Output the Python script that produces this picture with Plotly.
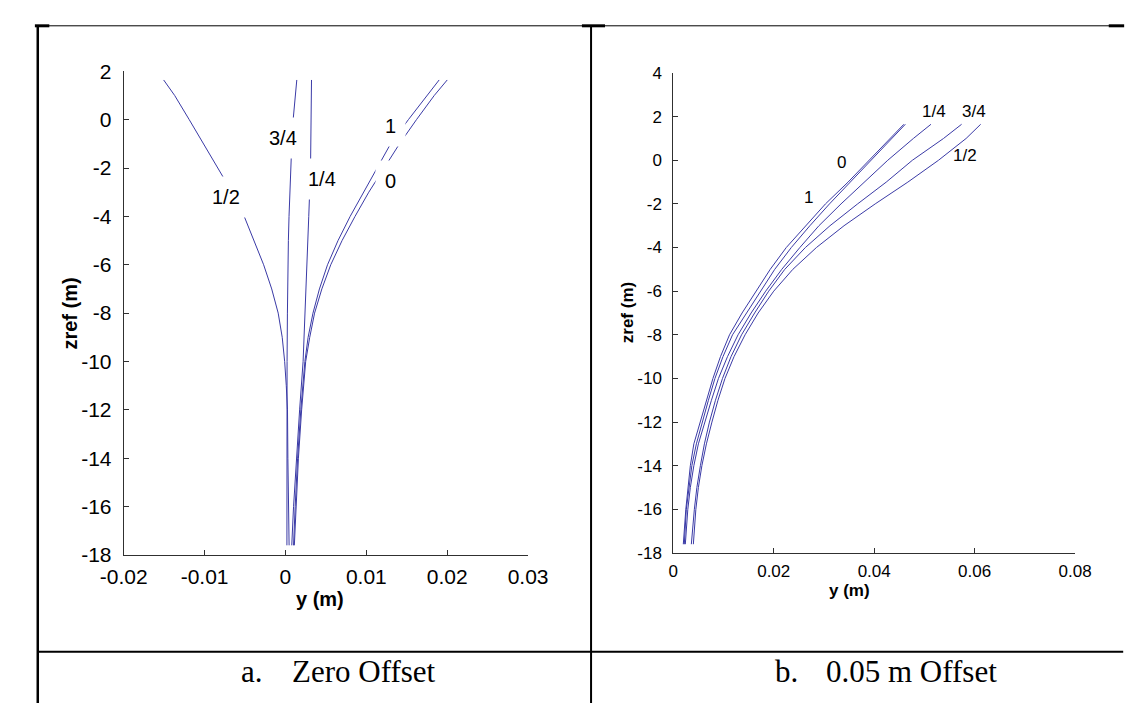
import plotly.graph_objects as go

W, H = 1140, 706

# ---------------- data : panel a (zero offset) ----------------
a_z_0 = [1.64, 1, 0, -1, -2, -3, -4, -5, -6, -7, -8, -9, -10, -12, -14, -16, -17.6]
a_y_0 = [0.0200, 0.0184, 0.0162, 0.0141, 0.0122, 0.0103, 0.0086, 0.0070, 0.0056, 0.0045,
         0.0036, 0.0030, 0.0025, 0.0020, 0.0016, 0.0013, 0.0011]
a_z_1 = [1.64, 1, 0, -1, -2, -3, -4, -5, -6, -7, -8, -9, -10, -12, -14, -16, -17.6]
a_y_1 = [0.0190, 0.0175, 0.0152, 0.0130, 0.0113, 0.0096, 0.0080, 0.0065, 0.0052, 0.0042,
         0.0034, 0.0028, 0.0024, 0.0019, 0.0015, 0.0012, 0.0010]
a_z_q = [1.64, 0, -2, -4, -6, -8, -10, -12, -14, -16, -17.6]
a_y_q = [0.00322, 0.00318, 0.00310, 0.00288, 0.00266, 0.00242, 0.00218, 0.00175, 0.00135,
         0.00100, 0.00078]
a_z_h = [1.64, 1, 0, -1, -2, -3, -4, -5, -6, -7, -8, -9, -10, -11, -12, -14, -16, -17.6]
a_y_h = [-0.01506, -0.0137, -0.0119, -0.0101, -0.0084, -0.0066, -0.0051, -0.0039, -0.0027,
         -0.0017, -0.0009, -0.0004, -0.0001, 0.0001, 0.00025, 0.0003, 0.0004, 0.00045]
a_z_t = [1.64, 1, 0, -1, -2, -3, -4, -5, -6, -8, -10, -12, -14, -16, -17.6]
a_y_t = [0.00140, 0.00122, 0.00095, 0.00078, 0.00064, 0.00054, 0.00044, 0.00036, 0.00030,
         0.00024, 0.00020, 0.00018, 0.00018, 0.00018, 0.00018]

# ---------------- data : panel b (0.05 m offset) ----------------
b_z = [1.65, 1, 0, -1, -2, -3, -4, -5, -6, -7, -8, -9, -10, -11, -12, -13, -14, -15, -16, -17.6]
b_y_1 = [0.0459, 0.0432, 0.0390, 0.0348, 0.0303, 0.0264, 0.0225, 0.0193, 0.0165, 0.0137,
         0.0112, 0.0094, 0.0079, 0.0066, 0.0053, 0.0041, 0.0034, 0.0029, 0.0025, 0.0020]
b_y_0 = [0.0462, 0.0435, 0.0394, 0.0353, 0.0311, 0.0272, 0.0235, 0.0202, 0.0174, 0.0145,
         0.0118, 0.0099, 0.0083, 0.0070, 0.0058, 0.0046, 0.0037, 0.0031, 0.0026, 0.0022]
b_y_q = [0.0513, 0.0478, 0.0427, 0.0380, 0.0334, 0.0290, 0.0252, 0.0216, 0.0184, 0.0155,
         0.0129, 0.0108, 0.0090, 0.0076, 0.0063, 0.0050, 0.0041, 0.0034, 0.0029, 0.0024]
b_y_t = [0.0574, 0.0538, 0.0476, 0.0424, 0.0367, 0.0312, 0.0263, 0.0222, 0.0190, 0.0162,
         0.0136, 0.0115, 0.0098, 0.0084, 0.0072, 0.0062, 0.0054, 0.0047, 0.0042, 0.0036]
b_y_h = [0.0612, 0.0583, 0.0528, 0.0467, 0.0402, 0.0340, 0.0285, 0.0238, 0.0200, 0.0169,
         0.0143, 0.0121, 0.0103, 0.0089, 0.0077, 0.0066, 0.0057, 0.0050, 0.0045, 0.0040]

# curve labels (text, y, z)
a_labels = [("1/2", -0.0074, -3.2), ("3/4", -0.00033, -0.74), ("1/4", 0.0045, -2.47),
            ("1", 0.0130, -0.27), ("0", 0.0130, -2.53)]
b_labels = [("1/4", 0.0519, 2.22), ("3/4", 0.0599, 2.22), ("1/2", 0.0580, 0.22),
            ("0", 0.0334, -0.08), ("1", 0.0270, -1.70)]

# ticks
a_xticks = [-0.02, -0.01, 0, 0.01, 0.02, 0.03]
a_xticktext = ["-0.02", "-0.01", "0", "0.01", "0.02", "0.03"]
a_yticks = [2, 0, -2, -4, -6, -8, -10, -12, -14, -16, -18]
a_yticktext = ["2", "0", "-2", "-4", "-6", "-8", "-10", "-12", "-14", "-16", "-18"]
b_xticks = [0, 0.02, 0.04, 0.06, 0.08]
b_xticktext = ["0", "0.02", "0.04", "0.06", "0.08"]
b_yticks = [4, 2, 0, -2, -4, -6, -8, -10, -12, -14, -16, -18]
b_yticktext = ["4", "2", "0", "-2", "-4", "-6", "-8", "-10", "-12", "-14", "-16", "-18"]

# ---------------- styling ----------------
LINE = "#3a3aa6"
AX = "#303030"
SANS = "Liberation Sans, Arial, sans-serif"
SERIF = "Liberation Serif, Times New Roman, serif"


def px(x):
    return x / W


def py(y):
    return 1 - y / H


fig = go.Figure()

for ys, zs in [(a_y_h, a_z_h), (a_y_t, a_z_t), (a_y_q, a_z_q), (a_y_1, a_z_1), (a_y_0, a_z_0)]:
    fig.add_trace(go.Scatter(x=ys, y=zs, mode="lines", line=dict(color=LINE, width=1),
                             xaxis="x", yaxis="y", showlegend=False, hoverinfo="skip"))
for ys in [b_y_1, b_y_0, b_y_q, b_y_t, b_y_h]:
    fig.add_trace(go.Scatter(x=ys, y=b_z, mode="lines", line=dict(color=LINE, width=1),
                             xaxis="x2", yaxis="y2", showlegend=False, hoverinfo="skip"))


def axis(domain, rng, tv, tt, size, anchor, standoff):
    return dict(domain=domain, range=rng, anchor=anchor, tickvals=tv, ticktext=tt,
                showline=True, linecolor=AX, linewidth=1, ticks="inside", ticklen=5,
                tickcolor=AX, tickwidth=1, showgrid=False, zeroline=False, mirror=False,
                tickfont=dict(family=SANS, size=size, color="#000"),
                ticklabelstandoff=standoff, fixedrange=True)


def note(x, y, text, size, family=SANS, ref=("paper", "paper"), **kw):
    d = dict(x=x, y=y, xref=ref[0], yref=ref[1], text=text, showarrow=False,
             xanchor="center", yanchor="middle", font=dict(family=family, size=size, color="#000"))
    d.update(kw)
    return d


annotations = []
for txt, x, y in a_labels:
    annotations.append(note(x, y, txt, 20, ref=("x", "y"), bgcolor="white", borderpad=9))
for txt, x, y in b_labels:
    annotations.append(note(x, y, txt, 17, ref=("x2", "y2")))

# axis titles
annotations += [
    note(px(300), py(598), "<b>y (m)</b>", 20),
    note(px(40), py(303), "<b>zref (m)</b>", 20, textangle=-90),
    note(px(850), py(590), "<b>y (m)</b>", 17),
    note(px(619), py(303), "<b>zref (m)</b>", 17, textangle=-90),
]

# captions
annotations += [
    note(px(229), py(673), "a.", 31, family=SERIF),
    note(px(268), py(673), "Zero Offset", 31, family=SERIF, xanchor="left"),
    note(px(785), py(673), "b.", 31, family=SERIF),
    note(px(824), py(673), "0.05 m Offset", 31, family=SERIF, xanchor="left"),
]


def hline(x0, x1, y, w):
    return dict(type="line", xref="paper", yref="paper", x0=px(x0), x1=px(x1), y0=py(y), y1=py(y),
                line=dict(color="#000", width=w))


def vline(x, y0, y1, w):
    return dict(type="line", xref="paper", yref="paper", x0=px(x), x1=px(x), y0=py(y0), y1=py(y1),
                line=dict(color="#000", width=w))


shapes = [
    hline(6, 1135, 6, 1),
    hline(3, 18, 6, 3), hline(572, 596, 6, 3), hline(1120, 1136, 6, 3),
    vline(6, 6, 706, 2.5),
    vline(581.5, 6, 706, 2),
    hline(6, 1135, 653, 2),
]

fig.update_layout(
    width=W, height=H, margin=dict(l=0, r=0, t=0, b=0),
    paper_bgcolor="white", plot_bgcolor="white", showlegend=False,
    xaxis=axis([px(95.4), px(516)], [-0.02, 0.03], a_xticks, a_xticktext, 21, "y", 3),
    yaxis=axis([py(553), py(53)], [-18, 2], a_yticks, a_yticktext, 21, "x", 7),
    xaxis2=axis([px(667), px(1085)], [0, 0.08], b_xticks, b_xticktext, 17, "y2", 3),
    yaxis2=axis([py(550.9), py(54.8)], [-18, 4], b_yticks, b_yticktext, 17, "x2", 7),
    annotations=annotations, shapes=shapes,
)

fig.write_html("out.html")
